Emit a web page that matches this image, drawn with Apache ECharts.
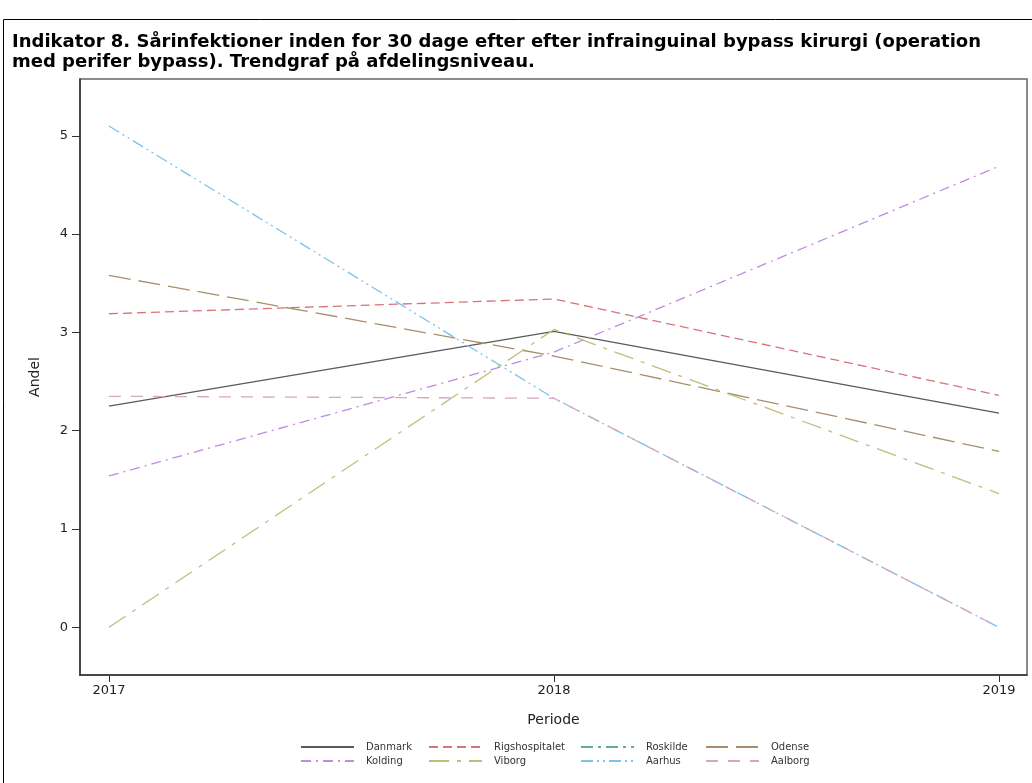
<!DOCTYPE html>
<html>
<head>
<meta charset="utf-8">
<script src="https://cdn.jsdelivr.net/npm/echarts@6/dist/echarts.min.js"></script>
<style>
html,body{margin:0;padding:0;background:#fff;}
#chart{width:1032px;height:783px;}
</style>
</head>
<body>
<div id="chart"></div>
<script>
var years = [2017, 2018, 2019];
var yTicks = [0, 1, 2, 3, 4, 5];
var danmark = [2.25, 3.01, 2.18];
var rigshospitalet = [3.19, 3.34, 2.36];
var roskilde = [null, null, null];
var odense = [3.58, 2.76, 1.79];
var kolding = [1.54, 2.80, 4.69];
var viborg = [0, 3.03, 1.36];
var aarhus = [5.10, 2.33, 0];
var aalborg = [2.35, 2.33, 0];

var seriesDefs = [
  {name: 'Danmark', data: danmark, color: '#5a5a5a', type: 'solid'},
  {name: 'Rigshospitalet', data: rigshospitalet, color: '#d8737c', type: [9, 5]},
  {name: 'Roskilde', data: roskilde, color: '#63a8a3', type: [12, 5, 3, 5]},
  {name: 'Odense', data: odense, color: '#a88f6c', type: [22, 8]},
  {name: 'Kolding', data: kolding, color: '#c08be0', type: [10, 5, 2, 5]},
  {name: 'Viborg', data: viborg, color: '#bcc07a', type: [20, 8, 4, 8]},
  {name: 'Aarhus', data: aarhus, color: '#7cc2ea', type: [12, 4, 2, 4, 2, 4]},
  {name: 'Aalborg', data: aalborg, color: '#d6a6bc', type: [12, 10]}
];

var chart = echarts.init(document.getElementById('chart'));
var fontFam = 'DejaVu Sans';

var series = seriesDefs.map(function (s) {
  return {
    name: s.name,
    type: 'line',
    symbol: 'none',
    data: years.map(function (y, i) { return [y, s.data[i]]; }),
    lineStyle: {color: s.color, width: 1.3, type: s.type},
    itemStyle: {color: s.color},
    emphasis: {disabled: true},
    animation: false
  };
});

function legendCol(names, left) {
  return {
    orient: 'vertical',
    left: left,
    top: 742,
    itemWidth: 53,
    itemHeight: 10,
    itemGap: 4,
    padding: 0,
    data: names,
    selectedMode: false,
    itemStyle: {opacity: 0},
    textStyle: {fontFamily: fontFam, fontSize: 10, color: '#333', padding: [0, 0, 0, 7]}
  };
}

chart.setOption({
  animation: false,
  backgroundColor: '#fff',
  title: {
    text: 'Indikator 8. Sårinfektioner inden for 30 dage efter efter infrainguinal bypass kirurgi (operation\nmed perifer bypass). Trendgraf på afdelingsniveau.',
    left: 12,
    top: 32,
    padding: 0,
    textStyle: {fontFamily: fontFam, fontWeight: 'bold', fontSize: 18, lineHeight: 20, color: '#000'}
  },
  legend: [
    legendCol(['Danmark', 'Kolding'], 300),
    legendCol(['Rigshospitalet', 'Viborg'], 428),
    legendCol(['Roskilde', 'Aarhus'], 580),
    legendCol(['Odense', 'Aalborg'], 705)
  ],
  grid: {
    left: 80, top: 79, right: 5, bottom: 108,
    show: true, borderColor: '#666', borderWidth: 1.5, backgroundColor: '#fff'
  },
  xAxis: {
    type: 'value',
    min: 2016.935,
    max: 2019.063,
    name: 'Periode',
    nameLocation: 'middle',
    nameGap: 38,
    nameTextStyle: {fontFamily: fontFam, fontSize: 14, color: '#222'},
    axisLine: {show: true, onZero: false, lineStyle: {color: '#333', width: 1.5}},
    axisTick: {show: true, customValues: years, length: 7, lineStyle: {color: '#333'}},
    axisLabel: {customValues: years, fontFamily: fontFam, fontSize: 13, color: '#222', margin: 9,
      formatter: function (v) { return String(v); }},
    splitLine: {show: false}
  },
  yAxis: {
    type: 'value',
    min: -0.485,
    max: 5.578,
    name: 'Andel',
    nameLocation: 'middle',
    nameGap: 38,
    nameRotate: 90,
    nameTextStyle: {fontFamily: fontFam, fontSize: 14, color: '#222'},
    axisLine: {show: true, onZero: false, lineStyle: {color: '#333', width: 1.5}},
    axisTick: {show: true, customValues: yTicks, length: 8, lineStyle: {color: '#333'}},
    axisLabel: {customValues: yTicks, fontFamily: fontFam, fontSize: 13, color: '#222', margin: 12,
      formatter: function (v) { return String(v); }},
    splitLine: {show: false}
  },
  graphic: [{
    type: 'rect',
    shape: {x: 3.5, y: 19.5, width: 1060, height: 800},
    style: {fill: 'none', stroke: '#000', lineWidth: 1},
    silent: true,
    z: 100
  }],
  series: series
});
</script>
</body>
</html>
